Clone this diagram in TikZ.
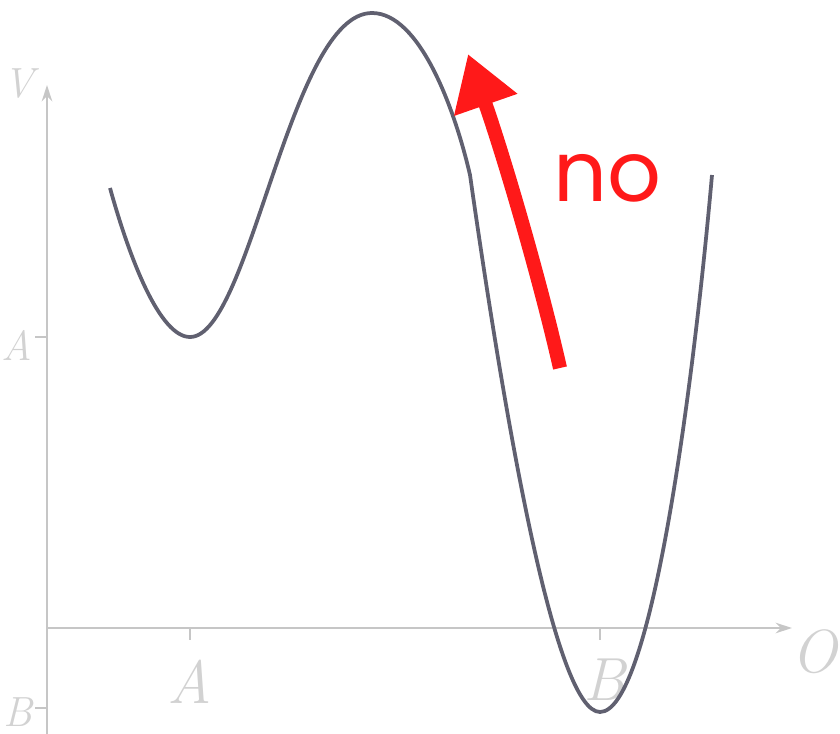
\documentclass[tikz,border=0pt]{standalone}
\usepackage{fontspec}
\newfontfamily\labelfont{Poppins}
\usetikzlibrary{arrows.meta}

\begin{document}
\begin{tikzpicture}[x=0.03cm,y=-0.03cm,
  axis/.style={line width=1.6pt,gray!45,-{Stealth[length=14pt,width=9pt]}},
  curve/.style={line width=3.2pt,black!75!blue!25!gray},
  faint/.style={text=gray!35,font=\fontsize{52}{52}\selectfont\itshape},
  side/.style={faint,font=\fontsize{36}{36}\selectfont\itshape,anchor=east,inner sep=1pt},
  push/.style={line width=12pt,red!90!white,-{Triangle[length=46pt,width=54pt]}}]
\useasboundingbox (0,0) rectangle (840,734);
\coordinate (O) at (47,628); \coordinate (X) at (792,628); \coordinate (Y) at (47,85); \coordinate (Yb) at (47,734);
\draw[axis] (Yb)--(Y); \draw[axis] (O)--(X);
\draw[gray!45,line width=1.2pt] (190,628)--(190,640) (600,628)--(600,640) (47,337)--(35,337) (47,708)--(35,708);
\node[faint] (lA) at (190,682) {A}; \node[faint] (lB) at (604,680) {B};
\node[faint,anchor=east,inner sep=2pt] (lO) at (840,652) {O};
\node[side] (lV) at (36,84) {V};
\node[side] (lVA) at (34,345) {A}; \node[side] (lVB) at (34,712) {B};
\draw[curve] (110,188) .. controls (130,260) and (160,337) .. (190,337)
  .. controls (250,337) and (290,13) .. (372,13)
  .. controls (420,13) and (455,110) .. (470,175)
  .. controls (505,420) and (555,712) .. (600,712)
  .. controls (650,712) and (692,400) .. (712,175);
\coordinate (tail) at (560,368); \coordinate (tip) at (468,54);
\draw[push] (tail) .. controls (540,280) and (505,160) .. (tip);
\node[text=red!90!white,font=\labelfont\fontsize{72}{72}\selectfont] (no) at (607,178) {no};
\end{tikzpicture}
\end{document}
